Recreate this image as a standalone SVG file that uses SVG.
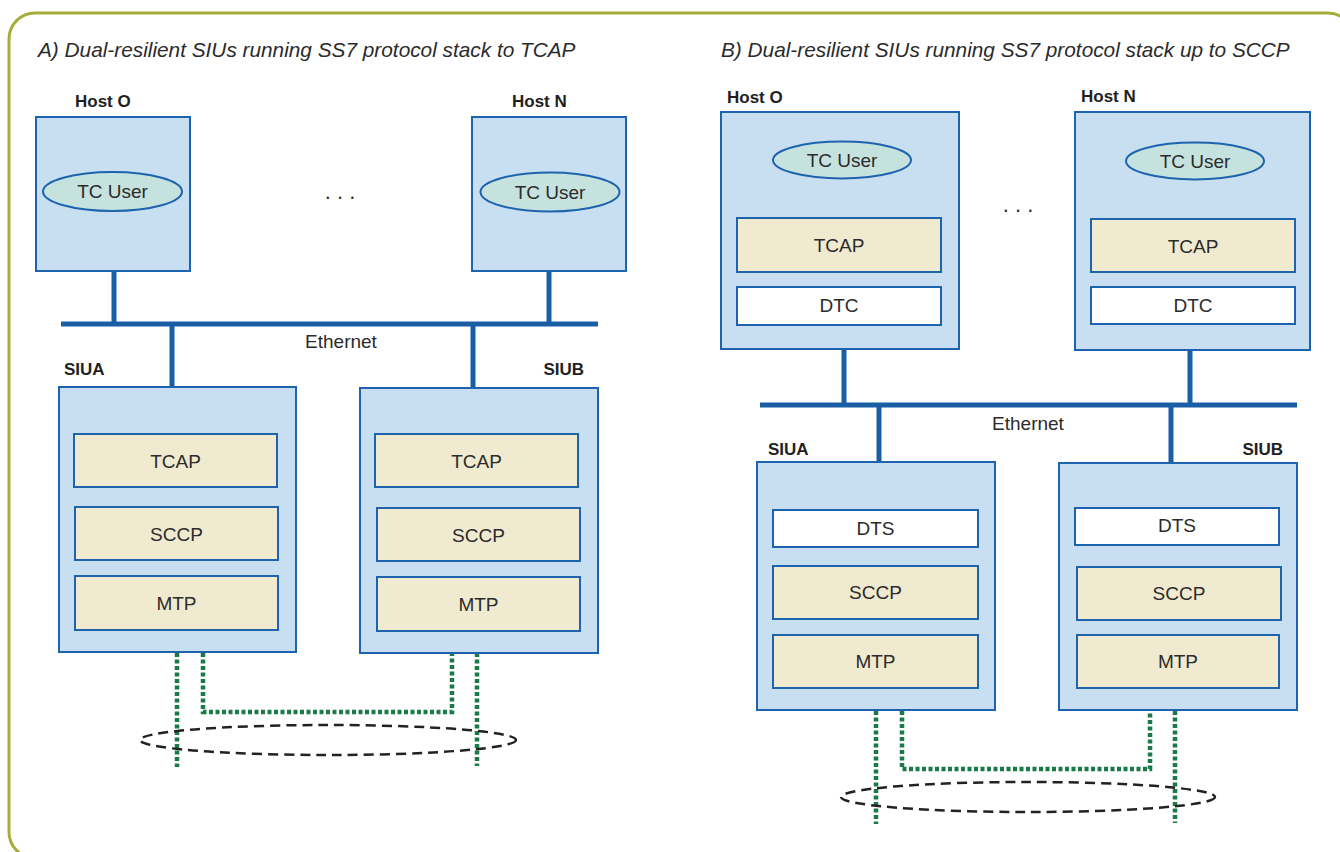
<svg xmlns="http://www.w3.org/2000/svg" width="1340" height="852" viewBox="0 0 1340 852">
<style>
  .frame{fill:none;stroke:#a6ad38;stroke-width:3}
  .title{font-family:"Liberation Sans",Arial,sans-serif;font-style:italic;font-size:20.8px;fill:#2b2b2b}
  .lbl{font-family:"Liberation Sans",Arial,sans-serif;font-weight:bold;font-size:17px;fill:#231f20}
  .txt{font-family:"Liberation Sans",Arial,sans-serif;font-size:19px;fill:#2b2b2b;text-anchor:middle}
  .dots{font-family:"Liberation Sans",Arial,sans-serif;font-size:22px;fill:#2b2b2b;text-anchor:middle}
  .box{fill:#c8dff2;stroke:#1d63ad;stroke-width:2}
  .layer{fill:#f0ead0;stroke:#1d63ad;stroke-width:2}
  .white{fill:#ffffff;stroke:#1d63ad;stroke-width:2}
  .user{fill:#c5e2df;stroke:#1d63ad;stroke-width:2}
  .bus{stroke:#1a5ea6;stroke-width:5;fill:none}
  .link{stroke:#1a7a48;stroke-width:4.5;stroke-dasharray:4 2.5;fill:none}
  .net{fill:none;stroke:#222;stroke-width:2.5;stroke-dasharray:10 6}
</style>
<rect class="frame" x="9" y="13" width="1345" height="845" rx="26"/>
<text class="title" x="38" y="57">A) Dual-resilient SIUs running SS7 protocol stack to TCAP</text>
<text class="title" x="721" y="57">B) Dual-resilient SIUs running SS7 protocol stack up to SCCP</text>

<g id="connectors">
  <!-- Panel A -->
  <line class="bus" x1="61" y1="324" x2="598" y2="324"/>
  <line class="bus" x1="114" y1="271" x2="114" y2="324"/>
  <line class="bus" x1="549" y1="271" x2="549" y2="324"/>
  <line class="bus" x1="172" y1="324" x2="172" y2="387"/>
  <line class="bus" x1="473" y1="324" x2="473" y2="388"/>
  <line class="link" x1="177" y1="653" x2="177" y2="767"/>
  <polyline class="link" points="203,653 203,712 452,712 452,653"/>
  <line class="link" x1="477" y1="653" x2="477" y2="766"/>
  <ellipse class="net" cx="328" cy="740" rx="188" ry="15"/>
  <!-- Panel B -->
  <line class="bus" x1="760" y1="405" x2="1297" y2="405"/>
  <line class="bus" x1="844" y1="349" x2="844" y2="405"/>
  <line class="bus" x1="1190" y1="350" x2="1190" y2="405"/>
  <line class="bus" x1="879" y1="405" x2="879" y2="462"/>
  <line class="bus" x1="1171" y1="405" x2="1171" y2="463"/>
  <line class="link" x1="876" y1="711" x2="876" y2="824"/>
  <polyline class="link" points="902,711 902,769 1150,769 1150,711"/>
  <line class="link" x1="1175" y1="711" x2="1175" y2="823"/>
  <ellipse class="net" cx="1028" cy="797" rx="187" ry="15"/>
  <text class="txt" x="341" y="348">Ethernet</text>
  <text class="txt" x="1028" y="430">Ethernet</text>
</g>

<g id="hostA0">
  <text class="lbl" x="75" y="107">Host O</text>
  <rect class="box" x="36" y="117" width="154" height="154"/>
  <ellipse class="user" cx="112.5" cy="191.5" rx="69.5" ry="19.5"/>
  <text class="txt" x="112.5" y="198">TC User</text>
</g>
<g id="dotsA"><text class="dots" x="340" y="199">. . .</text></g>
<g id="hostAN">
  <text class="lbl" x="512" y="107">Host N</text>
  <rect class="box" x="472" y="117" width="154" height="154"/>
  <ellipse class="user" cx="550" cy="192" rx="69.5" ry="19.5"/>
  <text class="txt" x="550" y="199">TC User</text>
</g>
<g id="siuaA">
  <text class="lbl" x="64" y="375">SIUA</text>
  <rect class="box" x="59" y="387" width="237" height="265"/>
  <rect class="layer" x="74" y="434" width="203" height="53"/>
  <text class="txt" x="175.5" y="468">TCAP</text>
  <rect class="layer" x="75" y="507" width="203" height="53"/>
  <text class="txt" x="176.5" y="541">SCCP</text>
  <rect class="layer" x="75" y="576" width="203" height="54"/>
  <text class="txt" x="176.5" y="610">MTP</text>
</g>
<g id="siubA">
  <text class="lbl" x="584" y="375" text-anchor="end">SIUB</text>
  <rect class="box" x="360" y="388" width="238" height="265"/>
  <rect class="layer" x="375" y="434" width="203" height="53"/>
  <text class="txt" x="476.5" y="468">TCAP</text>
  <rect class="layer" x="377" y="508" width="203" height="53"/>
  <text class="txt" x="478.5" y="542">SCCP</text>
  <rect class="layer" x="377" y="577" width="203" height="54"/>
  <text class="txt" x="478.5" y="611">MTP</text>
</g>

<g id="hostB0">
  <text class="lbl" x="727" y="103">Host O</text>
  <rect class="box" x="721" y="112" width="238" height="237"/>
  <ellipse class="user" cx="842" cy="160" rx="69" ry="18.5"/>
  <text class="txt" x="842" y="167">TC User</text>
  <rect class="layer" x="737" y="218" width="204" height="54"/>
  <text class="txt" x="839" y="252">TCAP</text>
  <rect class="white" x="737" y="287" width="204" height="38"/>
  <text class="txt" x="839" y="312">DTC</text>
</g>
<g id="dotsB"><text class="dots" x="1018" y="212">. . .</text></g>
<g id="hostBN">
  <text class="lbl" x="1081" y="102">Host N</text>
  <rect class="box" x="1075" y="112" width="235" height="238"/>
  <ellipse class="user" cx="1195" cy="161" rx="69" ry="18.5"/>
  <text class="txt" x="1195" y="168">TC User</text>
  <rect class="layer" x="1091" y="219" width="204" height="53"/>
  <text class="txt" x="1193" y="253">TCAP</text>
  <rect class="white" x="1091" y="287" width="204" height="37"/>
  <text class="txt" x="1193" y="312">DTC</text>
</g>
<g id="siuaB">
  <text class="lbl" x="768" y="455">SIUA</text>
  <rect class="box" x="757" y="462" width="238" height="248"/>
  <rect class="white" x="773" y="510" width="205" height="37"/>
  <text class="txt" x="875.5" y="535">DTS</text>
  <rect class="layer" x="773" y="566" width="205" height="53"/>
  <text class="txt" x="875.5" y="599">SCCP</text>
  <rect class="layer" x="773" y="635" width="205" height="53"/>
  <text class="txt" x="875.5" y="668">MTP</text>
</g>
<g id="siubB">
  <text class="lbl" x="1283" y="455" text-anchor="end">SIUB</text>
  <rect class="box" x="1059" y="463" width="238" height="247"/>
  <rect class="white" x="1075" y="508" width="204" height="37"/>
  <text class="txt" x="1177" y="532">DTS</text>
  <rect class="layer" x="1077" y="567" width="204" height="53"/>
  <text class="txt" x="1179" y="600">SCCP</text>
  <rect class="layer" x="1077" y="635" width="202" height="53"/>
  <text class="txt" x="1178" y="668">MTP</text>
</g>
</svg>
